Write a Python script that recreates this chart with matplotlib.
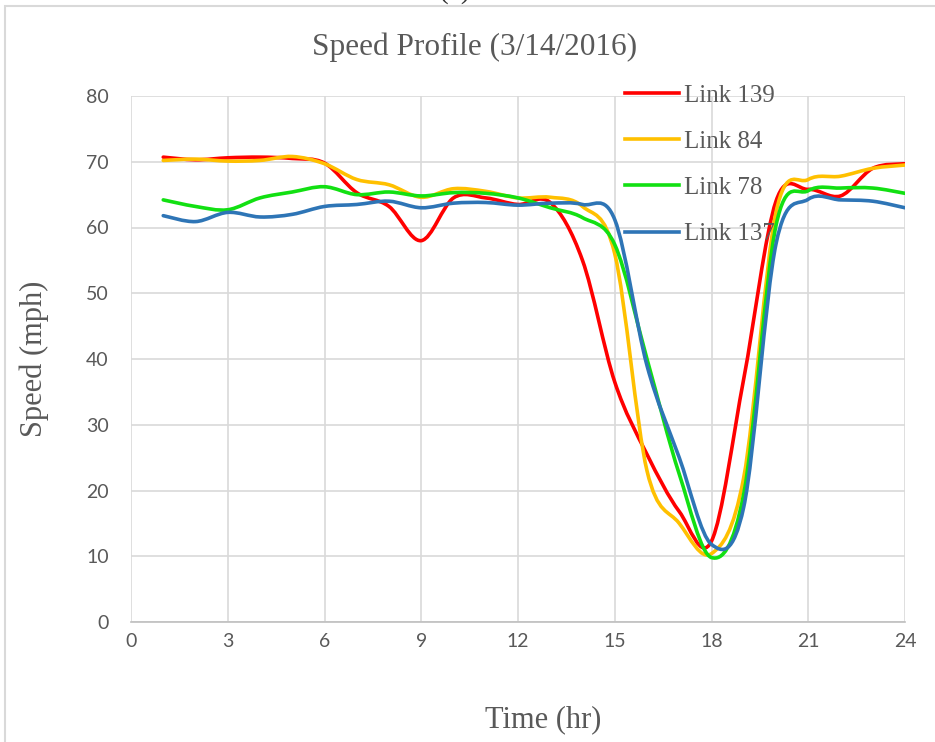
import numpy as np
import matplotlib
matplotlib.use('Agg')
import matplotlib.pyplot as plt
from matplotlib.path import Path
from matplotlib.patches import PathPatch, Rectangle
from matplotlib.lines import Line2D

hours = [1, 2, 3, 4, 5, 6, 7, 8, 9, 10, 11, 12,
         13, 14, 15, 16, 17, 18, 19, 20, 21, 22, 23, 24]

link139 = [70.7, 70.3, 70.6, 70.7, 70.5, 69.8, 65.3, 63.2, 58.0, 64.5, 64.5, 63.5,
           63.8, 55.0, 36.5, 25.5, 16.8, 12.3, 37.0, 64.0, 65.8, 64.8, 69.0, 69.7]
link84 = [70.2, 70.4, 70.1, 70.2, 70.8, 69.7, 67.3, 66.5, 64.6, 65.9, 65.5, 64.5,
          64.6, 63.2, 56.0, 23.0, 15.0, 10.4, 22.0, 62.3, 67.3, 67.8, 69.0, 69.5]
link78 = [64.2, 63.2, 62.7, 64.5, 65.4, 66.2, 65.0, 65.4, 64.8, 65.3, 65.2, 64.5,
          63.0, 61.5, 57.4, 40.0, 22.5, 9.8, 19.5, 60.3, 65.6, 66.0, 66.0, 65.2]
link137 = [61.8, 60.9, 62.3, 61.6, 62.0, 63.2, 63.5, 64.0, 63.0, 63.7, 63.8, 63.4,
           63.7, 63.5, 61.2, 39.0, 25.0, 11.8, 17.5, 57.5, 64.3, 64.2, 64.0, 63.0]

series = [('Link 139', link139, '#FF0000'),
          ('Link 84', link84, '#FFC000'),
          ('Link 78', link78, '#12E012'),
          ('Link 137', link137, '#2E75B6')]

xticks = [0, 3, 6, 9, 12, 15, 18, 21, 24]
yticks = [0, 10, 20, 30, 40, 50, 60, 70, 80]

txt = '#595959'
serif = 'Liberation Serif'
sans = 'Lato'


def smooth_path(x, y):
    # excel style smoothed line: bezier segments through every point
    p = np.column_stack([x, y]).astype(float)
    n = len(p)
    verts = [p[0]]
    codes = [Path.MOVETO]
    for i in range(n - 1):
        p0 = p[i - 1] if i > 0 else p[i]
        p3 = p[i + 2] if i + 2 < n else p[i + 1]
        c1 = p[i] + (p[i + 1] - p0) / 6.0
        c2 = p[i + 1] - (p3 - p[i]) / 6.0
        verts += [c1, c2, p[i + 1]]
        codes += [Path.CURVE4] * 3
    return Path(verts, codes)


fig = plt.figure(figsize=(9.35, 7.42), dpi=100)
ax = fig.add_axes([131/935, 1-622/742, 774/935, 526/742])

handles = []
for name, vals, col in series:
    pp = PathPatch(smooth_path(hours, vals), fill=False, edgecolor=col,
                   linewidth=2.6, capstyle='round', joinstyle='round', zorder=3)
    ax.add_patch(pp)
    handles.append(Line2D([], [], color=col, linewidth=2.6, label=name))

ax.set_xlim(0, 24)
ax.set_ylim(0, 80)
ax.set_xticks(xticks)
ax.set_yticks(yticks)
ax.grid(True, color='#d9d9d9', linewidth=1.2, zorder=0)
ax.set_axisbelow(True)
for s in ['top', 'right', 'left']:
    ax.spines[s].set_visible(False)
ax.spines['bottom'].set_color('#bfbfbf')
ax.spines['bottom'].set_linewidth(1.2)
ax.tick_params(length=0, labelcolor=txt, labelsize=14)
ax.tick_params(axis='y', pad=16)
ax.tick_params(axis='x', pad=8)
for lab in ax.get_xticklabels() + ax.get_yticklabels():
    lab.set_fontfamily(sans)

ax.set_xlabel('Time (hr)', fontsize=22, color=txt, family=serif)
ax.set_ylabel('Speed (mph)', fontsize=22, color=txt, family=serif)
ax.xaxis.set_label_coords(0.532, -0.158)
ax.yaxis.set_label_coords(-0.106, 0.5)

fig.text(475/935, 1-47/742, 'Speed Profile (3/14/2016)', ha='center', va='center',
         fontsize=22.5, color=txt, family=serif)
fig.text(455/935, 1-4/742, '(a)', ha='center', va='bottom',
         fontsize=21, color='#333333', family=serif)

fig.legend(handles=handles, loc='upper left', bbox_to_anchor=(625/935, 1-84/742),
           frameon=False, borderpad=0, borderaxespad=0, handlelength=2.15,
           handletextpad=0.2, labelspacing=0.95,
           prop={'family': serif, 'size': 18}, labelcolor=txt)

# chart area border
fig.patches.append(Rectangle((5/935, -0.1), 1.2, 1 - 6/742 + 0.1,
                             transform=fig.transFigure, fill=False,
                             edgecolor='#d9d9d9', linewidth=1.5))

plt.savefig('out.png', dpi=100)
